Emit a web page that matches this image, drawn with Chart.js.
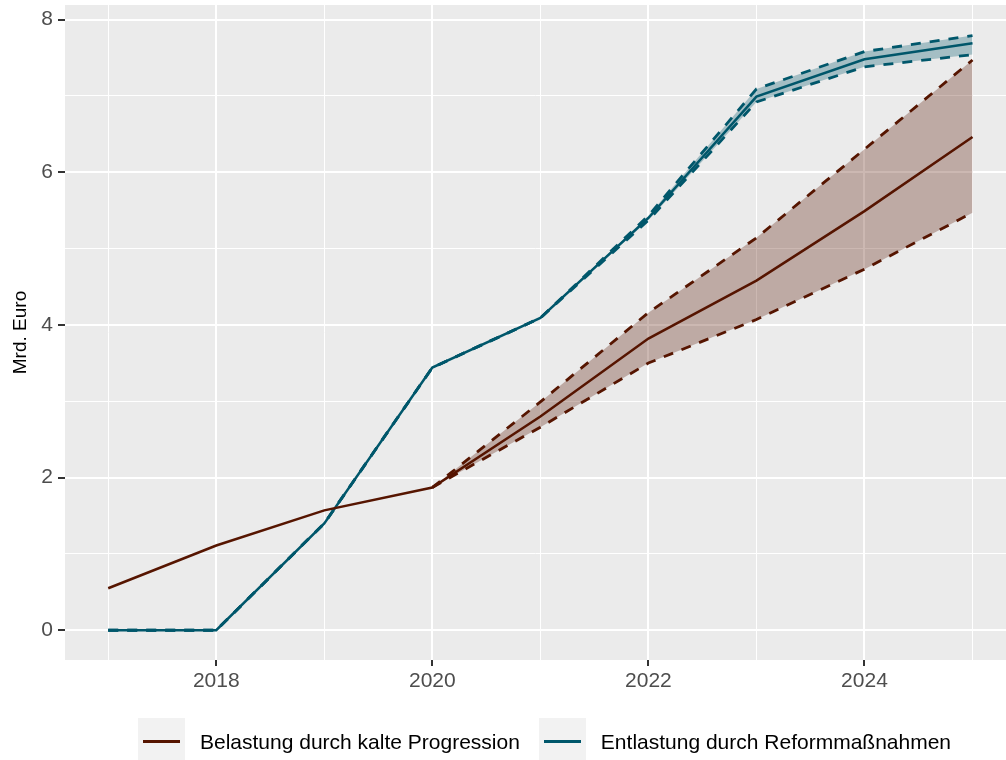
<!DOCTYPE html>
<html>
<head>
<meta charset="utf-8">
<script src="https://cdn.jsdelivr.net/npm/chart.js@4.4.1/dist/chart.umd.min.js"></script>
<style>
    body { margin: 0; background: #fff; font-family: "Liberation Sans", Arial, sans-serif; }
    #wrap { position: relative; width: 1006px; height: 760px; overflow: hidden; }
    #legend { position: absolute; left: 138px; top: 718px; height: 42px; display: flex; align-items: center; }
    .key { width: 47px; height: 42px; background: #F2F2F2; position: relative; flex: none; }
    .key span { position: absolute; left: 5px; right: 5px; top: 22px; height: 3px; }
    .lab { font-size: 21px; color: #000; margin-left: 15px; margin-right: 19px; padding-top: 5px; white-space: nowrap; }
</style>
</head>
<body>
<div id="wrap">
    <canvas id="chart" width="1006" height="760"></canvas>
    <div id="legend"></div>
</div>
<script>
// Years on the x axis
const years = [2017, 2018, 2019, 2020, 2021, 2022, 2023, 2024, 2025];

// Belastung durch kalte Progression (Mrd. Euro), band from 2020 on
const belastung      = [0.55, 1.11, 1.57, 1.87, 2.80, 3.82, 4.58, 5.49, 6.46];
const belastungUpper = [null, null, null, 1.87, 2.99, 4.16, 5.14, 6.30, 7.47];
const belastungLower = [null, null, null, 1.87, 2.66, 3.50, 4.07, 4.73, 5.47];

// Entlastung durch Reformmaßnahmen (Mrd. Euro)
const entlastung      = [0.00, 0.00, 1.40, 3.44, 4.09, 5.40, 6.99, 7.48, 7.69];
const entlastungUpper = [0.00, 0.00, 1.40, 3.44, 4.09, 5.43, 7.09, 7.58, 7.79];
const entlastungLower = [0.00, 0.00, 1.40, 3.44, 4.09, 5.37, 6.92, 7.38, 7.54];

const yTicks = [0, 1, 2, 3, 4, 5, 6, 7, 8];

const seriesNames = ['Belastung durch kalte Progression', 'Entlastung durch Reformmaßnahmen'];
const brown = '#561500';
const brownFill = 'rgba(86, 21, 0, 0.3)';
const blue = '#00576B';
const blueFill = 'rgba(0, 87, 107, 0.3)';

function toPoints(values) {
    return years
        .map((y, i) => ({ x: y, y: values[i] }))
        .filter(p => p.y !== null);
}

// grey ggplot panel behind the grid
const panelBackground = {
    id: 'panelBackground',
    beforeDraw(chart) {
        const { ctx, chartArea: a } = chart;
        ctx.save();
        ctx.fillStyle = '#EBEBEB';
        ctx.fillRect(a.left, a.top, a.right - a.left, a.bottom - a.top);
        ctx.restore();
    }
};

const font = { family: '"Liberation Sans", Arial, sans-serif', size: 21 };

function dashed(data, color) {
    return { data: toPoints(data), borderColor: color, borderWidth: 2.8, borderDash: [10, 9], pointRadius: 0, tension: 0 };
}

new Chart(document.getElementById('chart'), {
    type: 'line',
    data: {
        datasets: [
            Object.assign(dashed(belastungUpper, brown), { fill: '+1', backgroundColor: brownFill }),
            Object.assign(dashed(belastungLower, brown), { fill: false }),
            { label: seriesNames[0], data: toPoints(belastung), borderColor: brown, borderWidth: 2.5, pointRadius: 0, fill: false },
            Object.assign(dashed(entlastungUpper, blue), { fill: '+1', backgroundColor: blueFill }),
            Object.assign(dashed(entlastungLower, blue), { fill: false }),
            { label: seriesNames[1], data: toPoints(entlastung), borderColor: blue, borderWidth: 2.5, pointRadius: 0, fill: false }
        ]
    },
    options: {
        responsive: false,
        animation: false,
        layout: { padding: { top: 5, right: 0, left: 0, bottom: 0 } },
        plugins: {
            legend: { display: false },
            tooltip: { enabled: false }
        },
        scales: {
            x: {
                type: 'linear',
                min: 2016.6,
                max: 2025.31,
                afterBuildTicks: scale => { scale.ticks = years.map(v => ({ value: v })); },
                afterFit: scale => {
                    scale.height = 100;
                    scale.paddingLeft = 0;
                    scale.paddingRight = 0;
                },
                border: { display: false },
                grid: {
                    color: '#FFFFFF',
                    lineWidth: c => (c.tick.value % 2 === 0 ? 2 : 1),
                    tickColor: c => (c.tick.value % 2 === 0 ? '#333333' : 'rgba(0,0,0,0)'),
                    tickWidth: 2,
                    tickLength: 6
                },
                ticks: {
                    color: '#4D4D4D',
                    font: font,
                    padding: 3,
                    maxRotation: 0,
                    autoSkip: false,
                    callback: v => (v % 2 === 0 ? String(v) : '')
                }
            },
            y: {
                min: -0.39,
                max: 8.19,
                afterBuildTicks: scale => { scale.ticks = yTicks.map(v => ({ value: v })); },
                afterFit: scale => {
                    scale.width = 65;
                    scale.paddingTop = 0;
                    scale.paddingBottom = 0;
                },
                border: { display: false },
                grid: {
                    color: '#FFFFFF',
                    lineWidth: c => (c.tick.value % 2 === 0 ? 2 : 1),
                    tickColor: c => (c.tick.value % 2 === 0 ? '#333333' : 'rgba(0,0,0,0)'),
                    tickWidth: 2,
                    tickLength: 7
                },
                ticks: {
                    color: '#4D4D4D',
                    font: font,
                    padding: 5,
                    callback: v => (v % 2 === 0 ? String(v) : '')
                },
                title: {
                    display: true,
                    text: 'Mrd. Euro',
                    color: '#000000',
                    font: { family: font.family, size: 19 },
                    padding: { top: 9, bottom: 0 }
                }
            }
        }
    },
    plugins: [panelBackground]
});

// legend drawn as html keys below the plot
const legend = document.getElementById('legend');
[[seriesNames[0], brown], [seriesNames[1], blue]].forEach(([name, color]) => {
    const key = document.createElement('div');
    key.className = 'key';
    const line = document.createElement('span');
    line.style.background = color;
    key.appendChild(line);
    const lab = document.createElement('div');
    lab.className = 'lab';
    lab.textContent = name;
    legend.appendChild(key);
    legend.appendChild(lab);
});
</script>
</body>
</html>
